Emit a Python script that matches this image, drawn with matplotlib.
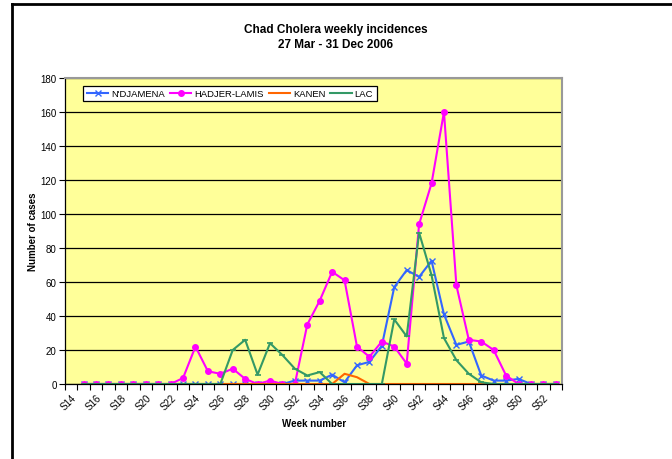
import numpy as np
import matplotlib
matplotlib.use("Agg")
import matplotlib.pyplot as plt
from matplotlib.lines import Line2D

plt.rcParams['font.family'] = ['Liberation Sans', 'DejaVu Sans']

nan = np.nan
weeks = ['S%d' % n for n in range(14, 54)]

# S14 .. S53
ndjamena = [nan] + [0] * 17 + [2, 2, 2, 5.5, 1, 11, 13, 22.5, 57, 67, 63, 72.5,
                                41, 23, 25, 5, 2, 2, 3, 0, 0, 0]
hadjer = [nan] + [0] * 8 + [3.5, 22, 7.5, 6, 9, 3, 0, 2, 0, 0, 35, 49, 66, 61,
                            22, 16, 25, 22, 12, 94, 118, 160, 58, 26, 25, 20,
                            5, 0, 0, 0, 0]
kanen = [nan] + [0] * 21 + [6, 4] + [0] * 16
lac = [nan] + [0] * 12 + [20, 26, 5.5, 24, 17, 9, 5, 7, 0, 0, 0, 0, 0, 38, 28,
                          89, 64, 27, 14, 6, 1, 0, 0, 0, 0, 0, 0]

fig = plt.figure(figsize=(6.72, 4.6), dpi=100)
ax = fig.add_axes([65 / 672, 75 / 460, 497 / 672, 306 / 460])
ax.set_facecolor('#FFFF99')

x = np.arange(len(weeks))
ax.plot(x, ndjamena, color='#3366FF', lw=1.5, marker='x', ms=4, mew=1,
        label="N'DJAMENA")
ax.plot(x, hadjer, color='#FF00FF', lw=1.5, marker='o', ms=4,
        label='HADJER-LAMIS')
ax.plot(x, kanen, color='#FF6600', lw=1.5, label='KANEN')
ax.plot(x, lac, color='#339966', lw=1.5, marker='_', ms=5, mew=1.2,
        label='LAC')

ax.set_xlim(-0.5, len(weeks) - 0.5)
ax.set_ylim(0, 180)
ax.set_yticks(range(0, 181, 20))
ax.yaxis.grid(True, color='black', lw=0.9)
ax.set_axisbelow(True)
ax.tick_params(axis='y', labelsize=7, length=4, width=0.8, pad=2)

ax.set_xticks(x[::2])
ax.set_xticklabels(weeks[::2], rotation=45, ha='right',
                   rotation_mode='anchor', fontsize=7)
ax.set_xticks(np.arange(-0.5, len(weeks), 1), minor=True)
ax.tick_params(axis='x', which='major', length=0, pad=6)
ax.tick_params(axis='x', which='minor', length=4, width=0.8)

for s in ['top', 'right']:
    ax.spines[s].set_color('#999999')
    ax.spines[s].set_linewidth(1.5)
for s in ['left', 'bottom']:
    ax.spines[s].set_color('black')
    ax.spines[s].set_linewidth(0.9)

leg = ax.legend(loc='upper left', bbox_to_anchor=(0.037, 0.975), ncol=4,
                fontsize=6.8, frameon=True, fancybox=False, handlelength=2.3,
                handletextpad=0.3, columnspacing=0.5, borderpad=0.35,
                borderaxespad=0)
leg.get_frame().set_edgecolor('black')
leg.get_frame().set_facecolor('white')
leg.get_frame().set_linewidth(0.9)
leg.get_frame().set_alpha(1)

fig.text(0.5, 1 - 30 / 460, 'Chad Cholera weekly incidences', ha='center',
         va='center', fontsize=8.5, fontweight='bold')
fig.text(0.5, 1 - 45 / 460, '27 Mar - 31 Dec 2006', ha='center',
         va='center', fontsize=8.5, fontweight='bold')
fig.text(33 / 672, 1 - 232 / 460, 'Number of cases', rotation=90,
         ha='center', va='center', fontsize=7, fontweight='bold')
fig.text(314 / 672, 1 - 424 / 460, 'Week number', ha='center', va='center',
         fontsize=7, fontweight='bold')

# outer frame (top and left edges only)
fig.add_artist(Line2D([12 / 672, 1], [1 - 5 / 460, 1 - 5 / 460],
                      color='black', lw=2, transform=fig.transFigure))
fig.add_artist(Line2D([12 / 672, 12 / 672], [0, 1 - 5 / 460],
                      color='black', lw=2, transform=fig.transFigure))

fig.savefig('out.png', dpi=100)
